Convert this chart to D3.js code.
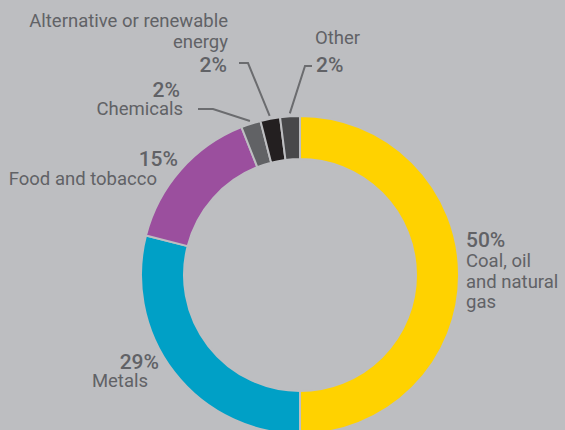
<!DOCTYPE html>
<html>
<head>
<meta charset="utf-8">
<script src="https://cdn.jsdelivr.net/npm/d3@7"></script>
<style>
  html, body { margin: 0; padding: 0; background: #bdbec1; }
  svg { display: block; }
</style>
</head>
<body>
<div id="chart"></div>
<script>
// industry share data
const categories = ["Coal, oil and natural gas", "Metals", "Food and tobacco", "Chemicals", "Alternative or renewable energy", "Other"];
const shares = [50, 29, 15, 2, 2, 2];
const labelLines = [["Coal, oil", "and natural", "gas"], ["Metals"], ["Food and tobacco"], ["Chemicals"], ["Alternative or renewable", "energy"], ["Other"]];
const colors = ["#ffd200", "#00a0c6", "#9b4f9e", "#616265", "#231f20", "#48484a"];

const width = 565, height = 430;
const bg = "#bdbec1";
const textColor = "#616266";

// where each callout sits (pct = percentage text, name = first line of the name)
const layout = {
  "Coal, oil and natural gas": { pct: [466, 247, "start"], name: [466, 267, "start"], lh: 20.5 },
  "Metals": { pct: [159, 369, "end"], name: [148, 387, "end"], lh: 20 },
  "Food and tobacco": { pct: [178, 166, "end"], name: [157, 185, "end"], lh: 20 },
  "Chemicals": { pct: [180, 97, "end"], name: [183, 115, "end"], lh: 20, leader: [[213, 109], [198, 109]] },
  "Alternative or renewable energy": { pct: [227, 72, "end"], name: [228, 27, "end"], lh: 21, leader: [[248, 63], [239, 63]] },
  "Other": { pct: [316, 72, "start"], name: [315, 44, "start"], lh: 20, leader: [[305, 66], [312, 66]] }
};

const svg = d3.select("#chart")
  .append("svg")
  .attr("width", width)
  .attr("height", height);

svg.append("rect").attr("width", width).attr("height", height).attr("fill", bg);

const cx = 300, cy = 275;
const g = svg.append("g").attr("transform", `translate(${cx}, ${cy})`);

const pie = d3.pie().sort(null).value((d) => d.value);
const arc = d3.arc().innerRadius(116).outerRadius(159);
const leaderArc = d3.arc().innerRadius(162).outerRadius(162);

const data = categories.map((c, i) => ({ name: c, value: shares[i], lines: labelLines[i], color: colors[i] }));
const data_ready = pie(data);

// slices
g.selectAll("path.slice")
  .data(data_ready)
  .enter()
  .append("path")
  .attr("class", "slice")
  .attr("d", arc)
  .attr("fill", (d) => d.data.color)
  .attr("stroke", bg)
  .style("stroke-width", "2px");

// leader lines for the thin slices
data_ready.filter((d) => layout[d.data.name].leader).forEach((d) => {
  const [sx, sy] = leaderArc.centroid(d);
  const pts = [[sx + cx, sy + cy]].concat(layout[d.data.name].leader);
  svg.append("path")
    .attr("d", d3.line()(pts))
    .attr("fill", "none")
    .attr("stroke", "#6b6c6f")
    .attr("stroke-width", 2);
});

// labels
data_ready.forEach((d) => {
  const L = layout[d.data.name];
  svg.append("text")
    .attr("x", L.pct[0])
    .attr("y", L.pct[1])
    .attr("text-anchor", L.pct[2])
    .attr("fill", textColor)
    .style("font-family", "Roboto, sans-serif")
    .style("font-weight", 500)
    .style("font-size", "21px")
    .text(d3.format(".0f")(d.data.value) + "%");

  const t = svg.append("text")
    .attr("text-anchor", L.name[2])
    .attr("fill", textColor)
    .style("font-family", "Roboto, sans-serif")
    .style("font-size", "18.5px");
  d.data.lines.forEach((line, i) => {
    t.append("tspan")
      .attr("x", L.name[0])
      .attr("y", L.name[1] + i * L.lh)
      .text(line);
  });
});
</script>
</body>
</html>
